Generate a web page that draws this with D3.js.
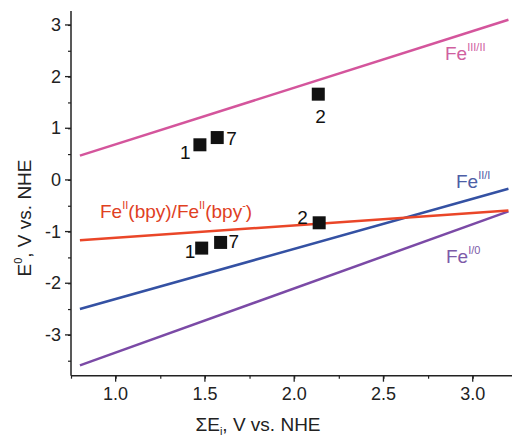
<!DOCTYPE html>
<html>
<head>
<meta charset="utf-8">
<style>
body { margin: 0; background: #fff; }
text { font-family: "Liberation Sans", Arial, sans-serif; }
</style>
</head>
<body>
<div id="chart"></div>
<script src="https://d3js.org/d3.v7.min.js"></script>
<script>
// correlation lines, E0 at the two ends
const lineX = [0.8, 3.2];
const feIIIII = [0.47, 3.10];
const feIII = [-2.50, -0.17];
const feI0 = [-3.59, -0.61];
const feBpy = [-1.17, -0.59];

// complexes 1, 7, 2
const labelsPts = ["1", "7", "2"];
const ptX = [1.472, 1.569, 2.135];
const ptUpper = [0.68, 0.82, 1.66];
const ptXLow = [1.482, 1.588, 2.14];
const ptLower = [-1.32, -1.21, -0.83];

const xTicks = [1.0, 1.5, 2.0, 2.5, 3.0];
const yTicks = [-3, -2, -1, 0, 1, 2, 3];

const width = 515, height = 437;
const svg = d3.select("#chart").append("svg")
  .attr("width", width).attr("height", height);

const x = d3.scaleLinear().domain([0.75, 3.22]).range([71, 512]);
const y = d3.scaleLinear().domain([-3.79, 3.27]).range([375.7, 11]);

// axes
const gx = svg.append("g").attr("transform", `translate(0,${y.range()[0]})`);
gx.call(d3.axisBottom(x).tickValues(d3.range(0.75, 3.23, 0.25)).tickSize(3).tickFormat(""));
gx.call(g => g.selectAll(".major").data(xTicks).join("line").attr("class", "major")
  .attr("x1", d => x(d)).attr("x2", d => x(d)).attr("y1", 0).attr("y2", 6).attr("stroke", "#222").attr("stroke-width", 1.3));
gx.selectAll(".lab").data(xTicks).join("text").attr("class", "lab")
  .attr("x", d => x(d)).attr("y", 24).attr("text-anchor", "middle")
  .attr("font-size", 18).attr("fill", "#222").text(d => d.toFixed(1));

const gy = svg.append("g").attr("transform", `translate(${x.range()[0]},0)`);
gy.call(d3.axisLeft(y).tickValues(d3.range(-3.5, 3.3, 0.5)).tickSize(3).tickFormat(""));
gy.selectAll(".major").data(yTicks).join("line").attr("class", "major")
  .attr("x1", 0).attr("x2", -6).attr("y1", d => y(d)).attr("y2", d => y(d)).attr("stroke", "#222").attr("stroke-width", 1.3);
gy.selectAll(".lab").data(yTicks).join("text").attr("class", "lab")
  .attr("x", -10).attr("y", d => y(d) + 6).attr("text-anchor", "end")
  .attr("font-size", 18).attr("fill", "#222").text(d => d);

svg.selectAll(".domain").attr("stroke", "#222").attr("stroke-width", 1.5);
svg.selectAll(".tick line").attr("stroke", "#222").attr("stroke-width", 1.2);
gx.select(".domain").attr("d", `M${x.range()[0]},0H${x.range()[1]}`);
gy.select(".domain").attr("d", `M0,${y.range()[1]}V${y.range()[0]}`);

// lines
const series = [
  { v: feIIIII, c: "#d4559c" },
  { v: feIII, c: "#3451a3" },
  { v: feI0, c: "#7b4aa6" },
  { v: feBpy, c: "#ea4628" }
];
const line = d3.line().x(d => x(d[0])).y(d => y(d[1]));
svg.append("g").selectAll("path").data(series).join("path")
  .attr("d", s => line(lineX.map((xv, i) => [xv, s.v[i]])))
  .attr("fill", "none").attr("stroke", s => s.c).attr("stroke-width", 2.5);

// points
const pts = ptX.map((xv, i) => ({ x: xv, y: ptUpper[i], l: labelsPts[i] }))
  .concat(ptXLow.map((xv, i) => ({ x: xv, y: ptLower[i], l: labelsPts[i] })));
svg.append("g").selectAll("rect").data(pts).join("rect")
  .attr("x", d => x(d.x) - 6.5).attr("y", d => y(d.y) - 6.5)
  .attr("width", 13).attr("height", 13).attr("fill", "#111");

// point labels offsets
const off = {
  "1": [-20, 14], "7": [9, 7], "2": [-3, 29]
};
const offLow = {
  "1": [-17, 10], "7": [8, 6], "2": [-22, 1]
};
svg.append("g").selectAll("text").data(pts).join("text")
  .attr("x", (d, i) => x(d.x) + (i < 3 ? off[d.l] : offLow[d.l])[0])
  .attr("y", (d, i) => y(d.y) + (i < 3 ? off[d.l] : offLow[d.l])[1])
  .attr("font-size", 19).attr("fill", "#111").text(d => d.l);

// line labels
function feLabel(px, py, sup, color, tail) {
  const t = svg.append("text").attr("x", px).attr("y", py).attr("font-size", 19).attr("fill", color);
  t.append("tspan").text("Fe");
  t.append("tspan").attr("font-size", 11).attr("dy", -9).text(sup);
  return t;
}
feLabel(445, 60, "III/II", "#d0609f");
feLabel(456, 188, "II/I", "#4d5ea6");
feLabel(446, 263, "I/0", "#7d5aa8");

const bt = svg.append("text").attr("x", 100).attr("y", 218).attr("font-size", 19).attr("fill", "#e0401f");
bt.append("tspan").text("Fe");
bt.append("tspan").attr("font-size", 11).attr("dy", -9).text("II");
bt.append("tspan").attr("dy", 9).text("(bpy)/Fe");
bt.append("tspan").attr("font-size", 11).attr("dy", -9).text("II");
bt.append("tspan").attr("dy", 9).text("(bpy");
bt.append("tspan").attr("font-size", 11).attr("dy", -9).text("-");
bt.append("tspan").attr("dy", 9).text(")");

// axis titles
const xt = svg.append("text").attr("x", 258).attr("y", 431).attr("text-anchor", "middle")
  .attr("font-size", 19).attr("fill", "#222");
xt.append("tspan").text("ΣE");
xt.append("tspan").attr("font-size", 11).attr("dy", 4).text("i");
xt.append("tspan").attr("dy", -4).text(", V vs. NHE");

const yt = svg.append("text").attr("transform", "translate(31,218) rotate(-90)")
  .attr("text-anchor", "middle").attr("font-size", 19).attr("fill", "#222");
yt.append("tspan").text("E");
yt.append("tspan").attr("font-size", 11).attr("dy", -9).text("0");
yt.append("tspan").attr("dy", 9).text(", V vs. NHE");
</script>
</body>
</html>
